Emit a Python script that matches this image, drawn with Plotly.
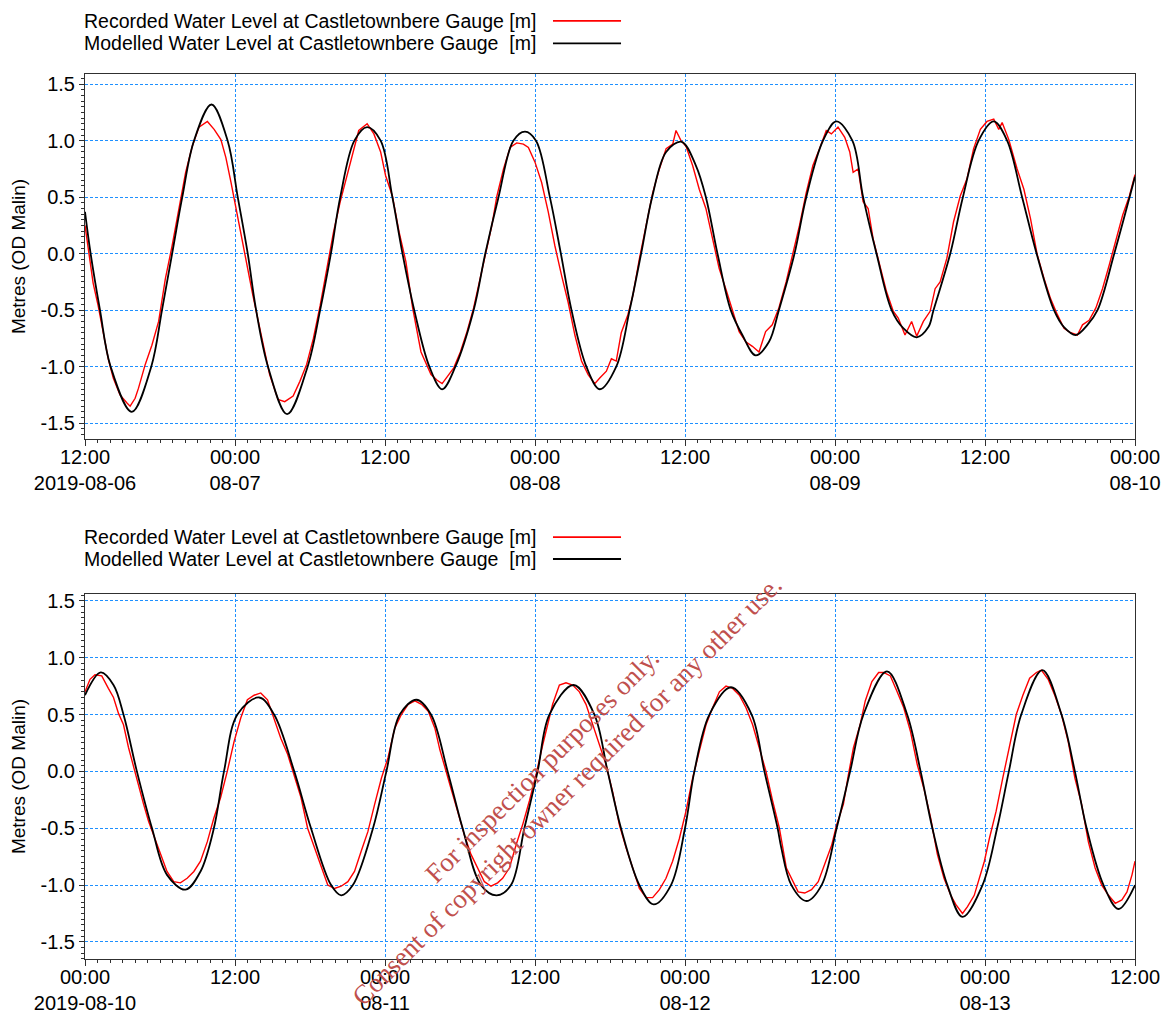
import pandas as pd
import plotly.graph_objects as go

# ---------------- data ----------------
TOP_START = "2019-08-06 12:00"
BOT_START = "2019-08-10 00:00"

# hours after TOP_START, water level [m]
top_model_h = [0.0, 0.45, 1.2, 2.05, 3.74, 5.30, 6.16, 6.97, 7.78, 8.72, 10.12, 11.41, 12.22, 13.02,
               13.69, 14.64, 16.17, 17.81, 18.81, 19.67, 20.42, 21.55, 22.57, 23.65, 24.59, 25.40,
               26.34, 27.55, 28.57, 29.63, 31.09, 32.02, 33.08, 34.27, 35.20, 36.08, 37.19, 38.07,
               38.92, 40.11, 41.18, 42.50, 43.57, 44.49, 45.37, 46.49, 47.73, 48.87, 49.67, 50.60,
               51.66, 52.59, 53.65, 54.72, 55.51, 56.76, 57.70, 59.04, 60.11, 61.39, 62.25, 63.32,
               64.53, 65.46, 66.54, 67.47, 67.88, 69.22, 70.23, 71.49, 72.70, 73.77, 74.97, 76.13,
               77.52, 78.32, 79.26, 80.20, 81.00, 82.34, 84.0]
top_model_v = [0.37, 0.0, -0.5, -1.0, -1.40, -1.0, -0.5, 0.0, 0.5, 1.0, 1.32, 1.0, 0.5, 0.0,
               -0.5, -1.0, -1.42, -1.0, -0.5, 0.0, 0.5, 1.0, 1.12, 1.0, 0.5, 0.0,
               -0.5, -1.0, -1.20, -1.0, -0.5, 0.0, 0.5, 1.0, 1.08, 1.0, 0.5, 0.0,
               -0.5, -1.0, -1.20, -1.0, -0.5, 0.0, 0.5, 0.90, 0.99, 0.78, 0.5, 0.0,
               -0.5, -0.72, -0.90, -0.78, -0.5, 0.0, 0.5, 1.0, 1.17, 1.0, 0.5, 0.0,
               -0.5, -0.66, -0.74, -0.65, -0.5, 0.0, 0.5, 1.0, 1.17, 1.0, 0.5, 0.0,
               -0.5, -0.65, -0.72, -0.63, -0.5, 0.0, 0.68]

top_rec_h = [0.0, 0.30, 0.65, 1.05, 1.45, 1.86, 2.26, 2.80, 3.34, 3.61, 4.01, 4.28, 4.82, 5.35, 5.89,
             6.43, 6.97, 7.51, 8.05, 8.58, 9.12, 9.79, 10.33, 10.87, 11.27, 11.68, 12.08, 12.62,
             13.02, 13.43, 14.10, 14.77, 15.44, 15.98, 16.65, 17.19, 17.73, 18.27, 18.81, 19.34,
             19.88, 20.42, 20.96, 21.50, 21.90, 22.57, 23.11, 23.65, 24.05, 24.59, 25.13, 25.67,
             26.21, 26.88, 27.68, 28.17, 28.57, 28.97, 29.50, 30.03, 30.56, 31.09, 31.49, 32.02,
             32.55, 32.95, 33.48, 34.01, 34.54, 35.07, 35.47, 36.00, 36.53, 37.06, 37.59, 38.12,
             38.65, 39.19, 39.72, 40.25, 40.78, 41.18, 41.71, 42.11, 42.50, 42.90, 43.43, 43.83,
             44.36, 44.89, 45.42, 45.95, 46.49, 47.02, 47.28, 47.68, 48.08, 48.61, 49.14, 49.67,
             50.20, 50.73, 51.26, 51.80, 52.33, 52.86, 53.39, 53.92, 54.45, 54.98, 55.51, 56.09,
             56.62, 57.16, 57.70, 58.23, 58.77, 59.30, 59.71, 60.24, 60.78, 61.18, 61.45, 61.85,
             62.25, 62.65, 63.05, 63.59, 64.13, 64.66, 65.06, 65.60, 66.13, 66.54, 67.07, 67.61,
             68.01, 68.41, 68.95, 69.48, 70.02, 70.55, 71.09, 71.63, 72.16, 72.70, 73.10, 73.37,
             73.90, 74.57, 75.11, 75.64, 76.18, 76.72, 77.25, 77.79, 78.32, 78.86, 79.39, 79.80,
             80.33, 80.87, 81.40, 81.94, 82.48, 83.01, 83.55, 84.0]
top_rec_v = [0.25, 0.03, -0.26, -0.46, -0.69, -0.93, -1.10, -1.25, -1.32, -1.35, -1.28, -1.19, -0.98, -0.81, -0.60,
             -0.22, 0.07, 0.40, 0.72, 0.95, 1.12, 1.17, 1.10, 1.01, 0.85, 0.63, 0.40, 0.10,
             -0.13, -0.37, -0.72, -1.07, -1.29, -1.31, -1.26, -1.13, -0.98, -0.75, -0.46, -0.13,
             0.19, 0.46, 0.69, 0.94, 1.09, 1.15, 1.06, 0.90, 0.69, 0.51, 0.19, -0.07,
             -0.48, -0.87, -1.07, -1.12, -1.15, -1.09, -1.01, -0.87, -0.69, -0.48, -0.28, -0.01,
             0.25, 0.51, 0.75, 0.94, 0.98, 0.97, 0.94, 0.81, 0.63, 0.37, 0.07, -0.19,
             -0.43, -0.72, -0.95, -1.07, -1.15, -1.10, -1.04, -0.93, -0.95, -0.70, -0.54, -0.37,
             -0.04, 0.25, 0.54, 0.75, 0.93, 0.97, 1.09, 1.00, 0.95, 0.78, 0.57, 0.40,
             0.13, -0.13, -0.31, -0.51, -0.69, -0.78, -0.82, -0.87, -0.69, -0.63, -0.48, -0.25,
             -0.01, 0.25, 0.54, 0.78, 0.93, 1.09, 1.06, 1.12, 1.03, 0.90, 0.72, 0.75,
             0.46, 0.40, 0.13, -0.10, -0.34, -0.51, -0.57, -0.72, -0.60, -0.73, -0.60, -0.51,
             -0.31, -0.25, -0.04, 0.28, 0.51, 0.66, 0.93, 1.10, 1.17, 1.19, 1.10, 1.16,
             1.01, 0.75, 0.57, 0.31, -0.01, -0.22, -0.40, -0.54, -0.66, -0.70, -0.72, -0.63,
             -0.59, -0.48, -0.31, -0.10, 0.13, 0.34, 0.51, 0.70]

# hours after BOT_START, water level [m]
bot_model_h = [0.0, 1.26, 2.28, 3.08, 4.15, 5.36, 6.56, 8.04, 9.24, 10.31, 11.12, 12.19, 13.93, 15.13,
               16.74, 18.08, 19.69, 20.49, 21.43, 23.04, 24.11, 25.18, 26.52, 27.68, 29.01, 30.21,
               31.68, 32.93, 34.08, 35.15, 36.21, 37.15, 39.09, 40.75, 41.81, 42.88, 44.35, 45.49,
               46.88, 48.0, 48.75, 49.95, 51.68, 53.33, 54.35, 55.41, 55.70, 56.51, 57.72, 58.93,
               60.13, 61.21, 62.28, 64.16, 65.77, 66.85, 67.79, 68.99, 70.20, 71.80, 72.97, 73.91,
               74.90, 76.59, 78.12, 79.19, 80.13, 81.48, 82.68, 84.0]
bot_model_v = [0.67, 0.87, 0.76, 0.5, 0.0, -0.5, -0.91, -1.04, -0.88, -0.5, 0.0, 0.5, 0.65, 0.5,
               0.0, -0.5, -1.0, -1.09, -1.0, -0.5, 0.0, 0.5, 0.63, 0.5, 0.0, -0.5,
               -1.0, -1.09, -1.0, -0.5, 0.0, 0.5, 0.76, 0.5, 0.0, -0.5, -1.0, -1.17,
               -1.0, -0.5, 0.0, 0.5, 0.74, 0.5, 0.0, -0.5, -0.67, -1.0, -1.14, -1.0,
               -0.5, 0.0, 0.5, 0.88, 0.5, 0.0, -0.5, -1.0, -1.28, -1.0, -0.5, 0.0,
               0.5, 0.89, 0.5, 0.0, -0.5, -1.0, -1.21, -1.0]

bot_rec_h = [0.0, 0.40, 0.80, 1.34, 1.87, 2.28, 2.68, 3.08, 3.48, 3.88, 4.29, 4.69, 5.09, 5.49, 6.03,
             6.56, 7.10, 7.63, 8.17, 8.71, 9.24, 9.78, 10.31, 10.85, 11.38, 11.92, 12.46, 12.99,
             13.53, 14.06, 14.60, 15.13, 15.67, 16.21, 16.74, 17.28, 17.81, 18.35, 18.88, 19.42,
             19.96, 20.49, 21.03, 21.56, 22.10, 22.63, 23.17, 23.71, 24.24, 24.78, 25.31, 25.85,
             26.39, 26.92, 27.46, 27.99, 28.39, 28.75, 29.28, 29.81, 30.35, 30.88, 31.41, 31.95,
             32.48, 33.01, 33.41, 33.95, 34.48, 35.01, 35.55, 36.08, 36.61, 37.01, 37.41, 37.95,
             38.48, 39.01, 39.55, 40.08, 40.61, 41.15, 41.68, 42.21, 42.75, 43.28, 43.81, 44.35,
             44.88, 45.41, 45.95, 46.48, 47.01, 47.55, 48.08, 48.61, 49.15, 49.68, 50.21, 50.75,
             51.28, 51.81, 52.35, 52.88, 53.41, 53.95, 54.48, 55.01, 55.55, 56.11, 56.51, 57.05,
             57.58, 58.12, 58.66, 59.19, 59.73, 60.13, 60.67, 61.07, 61.48, 62.01, 62.42, 62.95,
             63.49, 63.89, 64.43, 64.97, 65.50, 66.04, 66.58, 67.11, 67.65, 68.19, 68.72, 69.26,
             69.66, 70.20, 70.60, 71.14, 71.54, 71.95, 72.35, 72.89, 73.42, 73.96, 74.50, 75.03,
             75.57, 76.11, 76.51, 77.05, 77.58, 78.12, 78.66, 79.19, 79.73, 80.27, 80.81, 81.34,
             81.88, 82.42, 82.95, 83.36, 83.76, 84.0]
bot_rec_v = [0.70, 0.81, 0.85, 0.84, 0.73, 0.65, 0.51, 0.41, 0.21, 0.04, -0.12, -0.29, -0.44, -0.56, -0.73,
             -0.88, -0.97, -0.98, -0.94, -0.88, -0.79, -0.62, -0.41, -0.23, 0.0, 0.26, 0.47, 0.63,
             0.67, 0.69, 0.63, 0.47, 0.29, 0.15, -0.03, -0.23, -0.50, -0.67, -0.85, -1.0,
             -1.03, -1.01, -0.97, -0.88, -0.70, -0.53, -0.29, -0.06, 0.12, 0.38, 0.50, 0.59,
             0.62, 0.59, 0.53, 0.38, 0.19, 0.06, -0.15, -0.35, -0.56, -0.73, -0.85, -0.97,
             -1.01, -0.98, -0.94, -0.85, -0.65, -0.47, -0.26, -0.03, 0.23, 0.41, 0.59, 0.76,
             0.78, 0.76, 0.70, 0.59, 0.41, 0.23, 0.06, -0.18, -0.47, -0.67, -0.85, -1.03,
             -1.11, -1.11, -1.04, -0.94, -0.79, -0.59, -0.35, -0.06, 0.18, 0.41, 0.56, 0.70,
             0.75, 0.73, 0.67, 0.56, 0.41, 0.21, 0.0, -0.26, -0.50, -0.85, -0.94, -1.06,
             -1.07, -1.04, -0.97, -0.82, -0.65, -0.47, -0.29, -0.03, 0.21, 0.41, 0.62, 0.79,
             0.87, 0.87, 0.84, 0.70, 0.56, 0.35, 0.06, -0.15, -0.41, -0.73, -0.94, -1.09,
             -1.17, -1.25, -1.19, -1.09, -0.94, -0.79, -0.59, -0.35, -0.06, 0.23, 0.50, 0.67,
             0.82, 0.87, 0.89, 0.81, 0.67, 0.50, 0.26, -0.06, -0.29, -0.62, -0.85, -1.0,
             -1.09, -1.16, -1.13, -1.06, -0.91, -0.79]

tick_hours = [0, 12, 24, 36, 48, 60, 72, 84]
top_tick_labels = ["12:00<br>2019-08-06", "00:00<br>08-07", "12:00", "00:00<br>08-08",
                   "12:00", "00:00<br>08-09", "12:00", "00:00<br>08-10"]
bot_tick_labels = ["00:00<br>2019-08-10", "12:00", "00:00<br>08-11", "12:00",
                   "00:00<br>08-12", "12:00", "00:00<br>08-13", "12:00"]
y_tick_vals = [-1.5, -1.0, -0.5, 0.0, 0.5, 1.0, 1.5]
y_tick_labels = ["-1.5", "-1.0", "-0.5", "0.0", "0.5", "1.0", "1.5"]

rec_name = "Recorded Water Level at Castletownbere Gauge [m]"
mod_name = "Modelled Water Level at Castletownbere Gauge\u00a0 [m]"
y_title = "Metres (OD Malin)"
watermark = "For inspection purposes only.<br>Consent of copyright owner required for any other use."

# ---------------- figure ----------------
def times(start, hours):
    s = pd.Timestamp(start)
    return [s + pd.Timedelta(hours=h) for h in hours]

FONT = "Liberation Sans, Arial, sans-serif"
RED = "#FF0000"
GRID = "#1E90FF"
FRAME = "#303030"

fig = go.Figure()
for start, rh, rv, mh, mv, xa, ya in [
    (TOP_START, top_rec_h, top_rec_v, top_model_h, top_model_v, "x", "y"),
    (BOT_START, bot_rec_h, bot_rec_v, bot_model_h, bot_model_v, "x2", "y2"),
]:
    fig.add_trace(go.Scatter(x=times(start, rh), y=rv, mode="lines", name=rec_name,
                             line=dict(color=RED, width=1.4), xaxis=xa, yaxis=ya,
                             showlegend=False, hoverinfo="skip"))
    fig.add_trace(go.Scatter(x=times(start, mh), y=mv, mode="lines", name=mod_name,
                             line=dict(color="black", width=1.8, shape="spline", smoothing=1.0),
                             xaxis=xa, yaxis=ya, showlegend=False, hoverinfo="skip"))


def xaxis_cfg(start, labels, anchor):
    tv = times(start, tick_hours)
    return dict(
        anchor=anchor, domain=[0, 1], type="date", automargin=False,
        range=[tv[0], tv[-1]],
        tickmode="array", tickvals=tv, ticktext=labels,
        ticks="outside", ticklen=6, tickwidth=1, tickcolor=FRAME,
        ticklabelstandoff=-6,
        tickfont=dict(family=FONT, size=20, color="black"),
        showline=True, mirror=True, linecolor=FRAME, linewidth=1,
        showgrid=True, gridcolor=GRID, griddash="3px,2px", gridwidth=1,
        zeroline=False,
        minor=dict(tickmode="linear", tick0=tv[0], dtick=3600000, ticks="outside",
                   ticklen=3, tickcolor=FRAME, showgrid=False),
    )


def yaxis_cfg(domain, rng, anchor):
    return dict(
        anchor=anchor, domain=domain, range=rng, automargin=False,
        tickmode="array", tickvals=y_tick_vals, ticktext=y_tick_labels,
        ticks="outside", ticklen=5, tickwidth=1, tickcolor=FRAME,
        tickfont=dict(family=FONT, size=20, color="black"),
        showline=True, mirror=True, linecolor=FRAME, linewidth=1,
        showgrid=True, gridcolor=GRID, griddash="3px,2px", gridwidth=1,
        zeroline=False,
        minor=dict(tickmode="linear", tick0=0, dtick=0.05, ticks="outside",
                   ticklen=3, tickcolor=FRAME, showgrid=False),
        title=dict(text=y_title, font=dict(family=FONT, size=19, color="black"), standoff=14),
    )


# the page adds an 8 px body margin, so the figure is 8 px smaller and margins shifted
fig.update_layout(
    width=1162, height=1007,
    margin=dict(l=77, r=35, t=66, b=56),
    paper_bgcolor="white", plot_bgcolor="white",
    xaxis=xaxis_cfg(TOP_START, top_tick_labels, "y"),
    yaxis=yaxis_cfg([0.5876, 1.0], [-1.64, 1.59], "x"),
    xaxis2=xaxis_cfg(BOT_START, bot_tick_labels, "y2"),
    yaxis2=yaxis_cfg([0.0, 0.4124], [-1.65, 1.56], "x2"),
    showlegend=False,
)

# legend blocks (text on the left, line sample on the right), one per panel
shapes = []
annotations = []
for y_rec, y_mod in [(1.0600, 1.0345), (0.4768, 0.4520)]:
    for yy, name, col in [(y_rec, rec_name, RED), (y_mod, mod_name, "black")]:
        annotations.append(dict(x=-0.003, y=yy, xref="paper", yref="paper", text=name,
                                showarrow=False, xanchor="left", yanchor="middle",
                                font=dict(family=FONT, size=19.5, color="black")))
        shapes.append(dict(type="line", xref="paper", yref="paper", x0=0.4457, x1=0.5105,
                           y0=yy, y1=yy, line=dict(color=col, width=1.8)))

annotations.append(dict(x=0.4467, y=0.2045, xref="paper", yref="paper", text=watermark,
                        showarrow=False, textangle=-45, xanchor="center", yanchor="middle",
                        font=dict(family="Liberation Serif, Times New Roman, serif", size=27,
                                  color="#C0504D")))

fig.update_layout(shapes=shapes, annotations=annotations)
fig.write_html("out.html")
